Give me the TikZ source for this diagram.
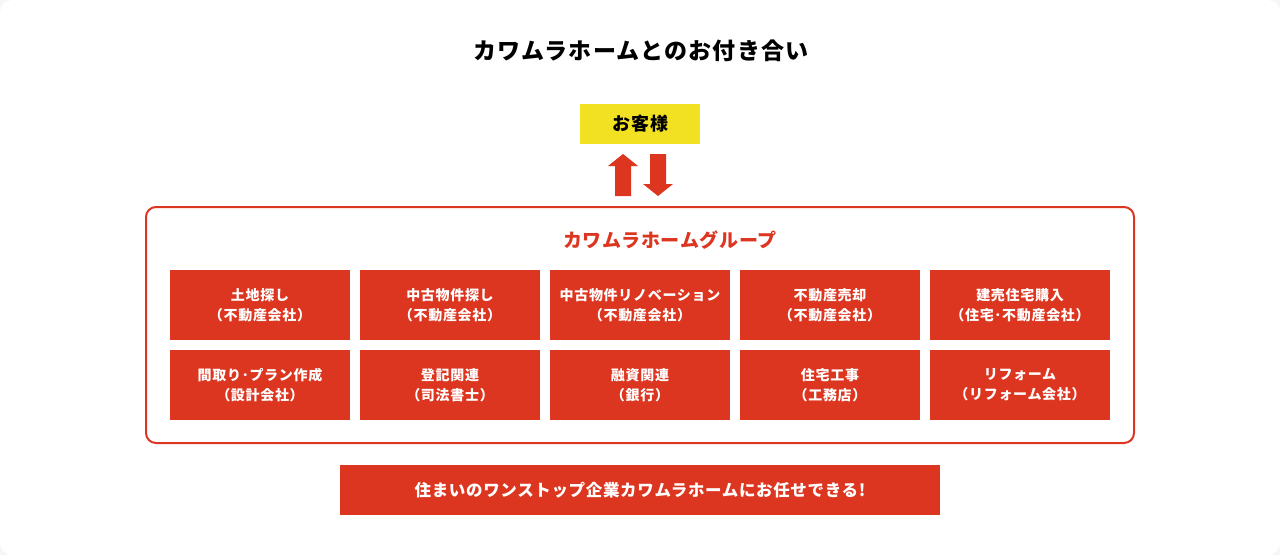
\documentclass[tikz,border=0pt]{standalone}
\usepackage{fontspec}
\setmainfont{Noto Sans CJK JP}
\newfontfamily\jpls[LetterSpace=5]{Noto Sans CJK JP}
\newfontfamily\jplf[LetterSpace=4]{Noto Sans CJK JP}
\definecolor{kred}{RGB}{221,54,32}
\definecolor{kyel}{RGB}{242,224,34}
\definecolor{kbg}{RGB}{246,246,246}
\begin{document}
\begin{tikzpicture}[x=1pt,y=-1pt,
  item/.style={fill=kred,minimum width=180pt,minimum height=70pt,inner sep=0pt,
    text=white,font=\jpls\bfseries\fontsize{14}{20}\selectfont,align=center},
  arrowshape/.style={fill=kred,draw=none}]
\useasboundingbox (0,0) rectangle (1280,555);
\fill[kbg] (0,0) rectangle (1280,555);
\fill[white,rounded corners=12pt] (0,0) rectangle (1280,555);
\node[font=\jpls\bfseries\fontsize{23}{26}\selectfont] (title) at (641,51) {カワムラホームとのお付き合い};
\node[fill=kyel,minimum width=120pt,minimum height=40pt,inner sep=0pt,font=\jpls\bfseries\fontsize{18}{20}\selectfont] (cust) at (640,124) {\hspace{1pt}お客様};
% arrows
\fill[arrowshape] (615,196) -- (615,166) -- (608,166) -- (623,154) -- (638,166) -- (631,166) -- (631,196) -- cycle;
\fill[arrowshape] (650,154) -- (666,154) -- (666,184) -- (673,184) -- (658,196) -- (643,184) -- (650,184) -- cycle;
\draw[kred,line width=2pt,rounded corners=10pt] (146,207) rectangle (1134,443);
\node[text=kred,font=\jplf\bfseries\fontsize{19}{22}\selectfont] (grp) at (670,240) {カワムラホームグループ};
\node[item] (a1) at (260,305) {土地探し\\（不動産会社）};
\node[item] (a2) at (450,305) {中古物件探し\\（不動産会社）};
\node[item] (a3) at (640,305) {中古物件リノベーション\\（不動産会社）};
\node[item] (a4) at (830,305) {不動産売却\\（不動産会社）};
\node[item] (a5) at (1020,305) {建売住宅購入\\（住宅･不動産会社）};
\node[item] (b1) at (260,385) {間取り･プラン作成\\（設計会社）};
\node[item] (b2) at (450,385) {登記関連\\（司法書士）};
\node[item] (b3) at (640,385) {融資関連\\（銀行）};
\node[item] (b4) at (830,385) {住宅工事\\（工務店）};
\node[item] (b5) at (1020,385) {リフォーム\\（リフォーム会社）};
\node[fill=kred,minimum width=600pt,minimum height=50pt,inner sep=0pt,text=white,font=\jplf\bfseries\fontsize{16.5}{20}\selectfont] (bar) at (640,490) {住まいのワンストップ企業カワムラホームにお任せできる!};
\end{tikzpicture}
\end{document}
